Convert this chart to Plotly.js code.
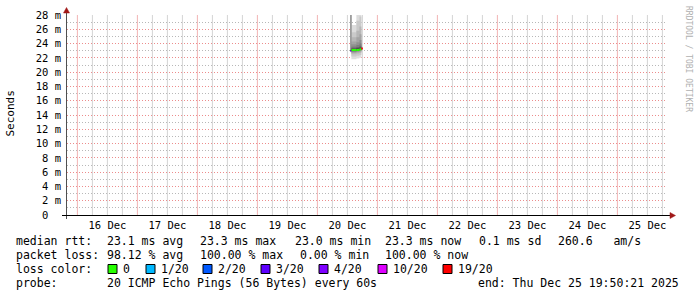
<!DOCTYPE html>
<html>
<head>
<meta charset="utf-8">
<script src="https://cdn.plot.ly/plotly-3.0.1.min.js"></script>
<style>html,body{margin:0;padding:0;background:#fff;}#chart{width:697px;height:297px;}</style>
</head>
<body>
<div id="chart"></div>
<script>
// ---- data ----
const xRange = ['2025-12-15 19:50:21', '2025-12-25 19:50:21'];
// day boundaries (major grid); labels are drawn half a day to the right
const dayTickVals = ['2025-12-16','2025-12-17','2025-12-18','2025-12-19','2025-12-20',
                     '2025-12-21','2025-12-22','2025-12-23','2025-12-24','2025-12-25'];
const dayTickText = ['16 Dec','17 Dec','18 Dec','19 Dec','20 Dec','21 Dec','22 Dec','23 Dec','24 Dec','25 Dec'];
const minorHours = ['06:00','12:00','18:00'];
const yTickVals = [0,2,4,6,8,10,12,14,16,18,20,22,24,26,28];
const yTickText = ['0\u00a0\u00a0','2 m','4 m','6 m','8 m','10 m','12 m','14 m','16 m','18 m','20 m','22 m','24 m','26 m','28 m'];

// column edges (step start times, last = end of last step)
const colEdges = ['2025-12-20 13:12','2025-12-20 13:36','2025-12-20 15:36','2025-12-20 16:48','2025-12-20 17:36','2025-12-20 18:12'];
// median rtt per step (ms)
const medianRtt = [23.0, 23.1, 23.1, 23.2, 23.3];
// loss per step (key into lossLabels)
const stepLoss = ['4/20','0','0','0','19/20'];
// sorted ping rtts per step (ms), null = lost
const ping0 = [22.8,22.9,22.9,23.0,23.0,23.0,23.0,23.0,23.0,23.0,23.1,23.1,23.1,23.1,23.1,30,31,32,33,34];
const ping1 = [21.8,22.2,22.5,22.7,22.8,22.9,23.0,23.0,23.1,23.1,23.1,23.2,23.3,23.4,23.6,23.9,24.3,24.9,25.6,26.6];
const ping2 = [21.9,22.3,22.6,22.8,22.9,23.0,23.0,23.1,23.1,23.2,23.2,23.3,23.4,23.5,23.8,24.2,24.9,25.8,27.2,29.5];
const ping3 = [22.0,22.4,22.7,22.9,23.0,23.1,23.1,23.2,23.2,23.3,23.3,23.4,23.5,23.7,24.0,24.5,25.3,26.4,27.8,30.0];
const ping4 = [23.3,null,null,null,null,null,null,null,null,null,null,null,null,null,null,null,null,null,null,null];
const pingSteps = [ping0, ping1, ping2, ping3, ping4];

const lossLabels = ['0','1/20','2/20','3/20','4/20','10/20','19/20'];
const lossColorList = ['#26ff00','#00b8ff','#0059ff','#5e00ff','#7e00ff','#dd00ff','#ff0000'];

const statsRtt = ['23.1 ms avg','23.3 ms max','23.0 ms min','23.3 ms now','0.1 ms sd','260.6\u00a0\u00a0\u00a0am/s'];
const statsLoss = ['98.12 % avg','100.00 % max','0.00 % min','100.00 % now'];
const probeText = '20 ICMP Echo Pings (56 Bytes) every 60s';
const endText = 'end: Thu Dec 25 19:50:21 2025';

// ---- layout helpers ----
const L = 67, T = 15, W = 600, H = 200;
const px = x => (x - L) / W;
const py = y => (T + H - y) / H;
const MONO = 'DejaVu Sans Mono, monospace';
const MGRID = '#ec8c8c', GRID = '#b8b8b8', DASH = '1px,2px';

const traces = [];
// smoke bands (outer -> inner)
const N = 20, half = N / 2;
for (let i = 1; i <= half; i++) {
  const lvl = Math.round(190 / half * (half - i)) + 50;
  const col = 'rgb(' + lvl + ',' + lvl + ',' + lvl + ')';
  const lo = [], hi = [];
  pingSteps.forEach((p, k) => {
    let a = p[i - 1], b = p[N - i];
    if (a == null || b == null) { a = medianRtt[k]; b = medianRtt[k]; }
    lo.push(a); hi.push(b);
  });
  lo.push(lo[lo.length - 1]); hi.push(hi[hi.length - 1]);
  traces.push({x: colEdges, y: lo, mode: 'lines', line: {width: 0, shape: 'hv'}, hoverinfo: 'skip', showlegend: false});
  traces.push({x: colEdges, y: hi, mode: 'lines', line: {width: 0, shape: 'hv'}, fill: 'tonexty', fillcolor: col, hoverinfo: 'skip', showlegend: false});
}
// median line, coloured by loss
medianRtt.forEach((m, k) => {
  const c = lossColorList[lossLabels.indexOf(stepLoss[k])];
  traces.push({x: [colEdges[k], colEdges[k + 1]], y: [m, m], mode: 'lines', line: {color: c, width: 2}, hoverinfo: 'skip', showlegend: false});
});

const shapes = [];
// vertical time grid (minor every 6h, major at midnight)
const gridDays = ['2025-12-15'].concat(dayTickVals);
gridDays.forEach(d => {
  minorHours.forEach(h => {
    const t = d + ' ' + h;
    if (t > xRange[0] && t < xRange[1])
      shapes.push({type: 'line', layer: 'below', xref: 'x', yref: 'paper', x0: t, x1: t, y0: 0, y1: 1, line: {color: '#d4d4d4', width: 1}});
  });
});
dayTickVals.forEach(d => {
  shapes.push({type: 'line', layer: 'below', xref: 'x', yref: 'paper', x0: d, x1: d, y0: 0, y1: 1, line: {color: '#f2b4b4', width: 1}});
});

const annotations = [];
function txt(text, x, y, opts) {
  annotations.push(Object.assign({text: text.replace(/ {2,}/g, s => '\u00a0'.repeat(s.length)), xref: 'paper', yref: 'paper', x: px(x), y: py(y),
    xanchor: 'left', yanchor: 'middle', showarrow: false, borderpad: 0,
    font: {family: MONO, size: 11.5, color: '#000'}}, opts || {}));
}
txt('median rtt:', 15, 241);
const rttX = [106, 199, 294, 384, 478, 557];
statsRtt.forEach((s, i) => txt(s, rttX[i], 241));
txt('packet loss:', 15, 255);
const lossX = [106, 199, 299, 384];
statsLoss.forEach((s, i) => txt(s, lossX[i], 255));
txt('loss color:', 15, 269);
const boxX = [108, 146, 203, 261, 319, 378, 443];
lossLabels.forEach((lab, i) => {
  shapes.push({type: 'rect', xref: 'paper', yref: 'paper', x0: px(boxX[i]), x1: px(boxX[i] + 9), y0: py(273.5), y1: py(264.5),
    fillcolor: lossColorList[i], line: {color: '#000', width: 1}});
  txt(lab, boxX[i] + 14, 269);
});
txt('probe:', 15, 283);
txt(probeText, 106, 283);
txt(endText, 477, 283);
annotations.push({text: 'Seconds', xref: 'paper', yref: 'paper', x: px(10), y: py(113.5), xanchor: 'center', yanchor: 'middle',
  textangle: -90, showarrow: false, font: {family: MONO, size: 11, color: '#000'}});
annotations.push({text: 'RRDTOOL / TOBI OETIKER', xref: 'paper', yref: 'paper', x: px(688), y: py(59), xanchor: 'center', yanchor: 'middle',
  textangle: 90, showarrow: false, font: {family: MONO, size: 8, color: '#b0b0b0'}});

shapes.push({type: 'line', xref: 'paper', yref: 'paper', x0: px(66.5), x1: px(66.5), y0: py(219), y1: py(11), line: {color: '#505050', width: 1}});
shapes.push({type: 'line', xref: 'paper', yref: 'paper', x0: px(62), x1: px(671), y0: py(215.5), y1: py(215.5), line: {color: '#000', width: 1}});
shapes.push({type: 'path', xref: 'paper', yref: 'paper',
  path: 'M ' + px(670) + ' ' + py(212.5) + ' L ' + px(675.5) + ' ' + py(215.5) + ' L ' + px(670) + ' ' + py(218.5) + ' Z',
  fillcolor: '#a01818', line: {color: '#a01818', width: 0.5}});
shapes.push({type: 'path', xref: 'paper', yref: 'paper',
  path: 'M ' + px(63.5) + ' ' + py(13) + ' L ' + px(66.5) + ' ' + py(7.5) + ' L ' + px(69.5) + ' ' + py(13) + ' Z',
  fillcolor: '#a01818', line: {color: '#a01818', width: 0.5}});

const layout = {
  width: 697, height: 297,
  margin: {l: L, r: 697 - L - W, t: T, b: 297 - T - H, pad: 0},
  paper_bgcolor: '#fff', plot_bgcolor: '#fff',
  showlegend: false,
  xaxis: {type: 'date', range: xRange, tickmode: 'array', tickvals: dayTickVals, ticktext: dayTickText,
    ticklabelshift: 30, ticklabelstandoff: 2,
    showgrid: false, zeroline: false, showline: false, ticks: '',
    tickfont: {family: MONO, size: 10.5, color: '#000'}, fixedrange: true},
  yaxis: {range: [0, 28], tickmode: 'array', tickvals: yTickVals, ticktext: yTickText,
    showgrid: true, gridcolor: MGRID, griddash: DASH, gridwidth: 1,
    minor: {tickmode: 'linear', tick0: 0, dtick: 1, showgrid: true, gridcolor: GRID, griddash: DASH, gridwidth: 1},
    zeroline: false, showline: false, ticks: '', ticklabelstandoff: 5,
    tickfont: {family: MONO, size: 10.5, color: '#000'}, fixedrange: true},
  shapes: shapes,
  annotations: annotations
};
Plotly.newPlot('chart', traces, layout, {staticPlot: true, displayModeBar: false});
</script>
</body>
</html>
